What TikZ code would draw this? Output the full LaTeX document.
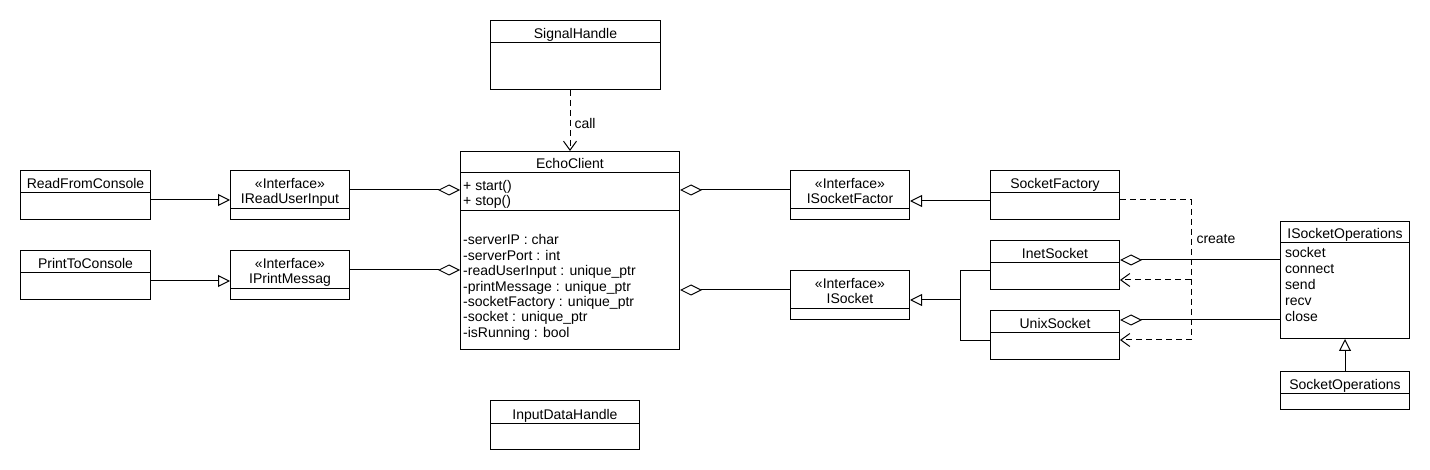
\documentclass[tikz,border=0pt]{standalone}
\usepackage{fontspec}
\setmainfont{Liberation Sans}
\usetikzlibrary{arrows.meta, positioning, calc}

\tikzstyle{umlclass} = [draw, line width=1pt, anchor=north west, inner sep=0pt]
\tikzstyle{txt} = [anchor=base, inner sep=0pt, font=\fontsize{14}{16}\selectfont]
\tikzstyle{member} = [anchor=base west, inner sep=0pt, font=\fontsize{14}{16}\selectfont]
\tikzstyle{line} = [line width=1pt]
\tikzstyle{inherit} = [line width=1pt, -{Triangle[open, length=12pt, width=12pt]}]
\tikzstyle{aggr} = [line width=1pt, {Diamond[open, length=22pt, width=11pt]}-]
\tikzstyle{depend} = [line width=1pt, dash pattern=on 6pt off 4pt, -{Straight Barb[length=9pt, width=13pt]}]

\begin{document}
\begin{tikzpicture}[x=1pt, y=-1pt]
    \fill[white] (0,0) rectangle (1430,470);
    \useasboundingbox (0,0) rectangle (1430,470);

    % SignalHandle
    \node[umlclass, minimum width=170, minimum height=69] (signal) at (490,20) {};
    \node[txt] (signal-t) at ([yshift=-19]signal.north) {SignalHandle};
    \draw[line] ([yshift=-23]signal.north west) -- ([yshift=-23]signal.north east);

    % Console side
    \node[umlclass, minimum width=130, minimum height=49] (readcon) at (20,170) {};
    \node[txt] (readcon-t) at ([yshift=-19]readcon.north) {ReadFromConsole};
    \draw[line] ([yshift=-23]readcon.north west) -- ([yshift=-23]readcon.north east);

    \node[umlclass, minimum width=119, minimum height=49] (iread) at (230,170) {};
    \node[txt] (iread-s) at ([yshift=-19]iread.north) {«Interface»};
    \node[txt] (iread-t) at ([yshift=-34]iread.north) {IReadUserInput};
    \draw[line] ([yshift=-39]iread.north west) -- ([yshift=-39]iread.north east);

    \node[umlclass, minimum width=130, minimum height=49] (printcon) at (20,250) {};
    \node[txt] (printcon-t) at ([yshift=-19]printcon.north) {PrintToConsole};
    \draw[line] ([yshift=-23]printcon.north west) -- ([yshift=-23]printcon.north east);

    \node[umlclass, minimum width=119, minimum height=49] (iprint) at (230,250) {};
    \node[txt] (iprint-s) at ([yshift=-19]iprint.north) {«Interface»};
    \node[txt] (iprint-t) at ([yshift=-34]iprint.north) {IPrintMessag};
    \draw[line] ([yshift=-39]iprint.north west) -- ([yshift=-39]iprint.north east);

    % EchoClient
    \node[umlclass, minimum width=219, minimum height=198] (echo) at (460,151) {};
    \node[txt] (echo-t) at ([yshift=-18]echo.north) {EchoClient};
    \draw[line] ([yshift=-22]echo.north west) -- ([yshift=-22]echo.north east);
    \node[member] (echo-m1) at ([xshift=3, yshift=-39.5]echo.north west) {+ start()};
    \node[member] (echo-m2) at ([xshift=3, yshift=-55]echo.north west) {+ stop()};
    \draw[line] ([yshift=-60]echo.north west) -- ([yshift=-60]echo.north east);
    \foreach \attr [count=\i] in {-serverIP : char, -serverPort : int,
        -readUserInput : unique\_ptr, -printMessage : unique\_ptr,
        -socketFactory : unique\_ptr, -socket : unique\_ptr, -isRunning : bool}
        \node[member] (echo-a\i) at ([xshift=3, yshift=-94-15.4*(\i-1)]echo.north west) {\attr};

    % InputDataHandle
    \node[umlclass, minimum width=149, minimum height=49] (inputdata) at (490,400) {};
    \node[txt] (inputdata-t) at ([yshift=-19]inputdata.north) {InputDataHandle};
    \draw[line] ([yshift=-23]inputdata.north west) -- ([yshift=-23]inputdata.north east);

    % Socket side
    \node[umlclass, minimum width=119, minimum height=49] (ifactory) at (790,170) {};
    \node[txt] (ifactory-s) at ([yshift=-19]ifactory.north) {«Interface»};
    \node[txt] (ifactory-t) at ([yshift=-34]ifactory.north) {ISocketFactor};
    \draw[line] ([yshift=-39]ifactory.north west) -- ([yshift=-39]ifactory.north east);

    \node[umlclass, minimum width=129, minimum height=49] (factory) at (990,170) {};
    \node[txt] (factory-t) at ([yshift=-19]factory.north) {SocketFactory};
    \draw[line] ([yshift=-23]factory.north west) -- ([yshift=-23]factory.north east);

    \node[umlclass, minimum width=119, minimum height=49] (isocket) at (790,270) {};
    \node[txt] (isocket-s) at ([yshift=-19]isocket.north) {«Interface»};
    \node[txt] (isocket-t) at ([yshift=-34]isocket.north) {ISocket};
    \draw[line] ([yshift=-39]isocket.north west) -- ([yshift=-39]isocket.north east);

    \node[umlclass, minimum width=129, minimum height=49] (inet) at (990,240) {};
    \node[txt] (inet-t) at ([yshift=-19]inet.north) {InetSocket};
    \draw[line] ([yshift=-23]inet.north west) -- ([yshift=-23]inet.north east);

    \node[umlclass, minimum width=129, minimum height=49] (unixsock) at (990,310) {};
    \node[txt] (unixsock-t) at ([yshift=-19]unixsock.north) {UnixSocket};
    \draw[line] ([yshift=-23]unixsock.north west) -- ([yshift=-23]unixsock.north east);

    % Socket operations
    \node[umlclass, minimum width=129, minimum height=117] (isockops) at (1280,221) {};
    \node[txt] (isockops-t) at ([yshift=-18]isockops.north) {ISocketOperations};
    \draw[line] ([yshift=-22]isockops.north west) -- ([yshift=-22]isockops.north east);
    \foreach \op [count=\i] in {socket, connect, send, recv, close}
        \node[member] (isockops-m\i) at ([xshift=5, yshift=-36.5-16*(\i-1)]isockops.north west) {\op};

    \node[umlclass, minimum width=129, minimum height=38] (sockops) at (1280,371) {};
    \node[txt] (sockops-t) at ([yshift=-18]sockops.north) {SocketOperations};
    \draw[line] ([yshift=-22]sockops.north west) -- ([yshift=-22]sockops.north east);

    % Relations
    \draw[depend] (signal.south -| echo.north) -- node[right=4pt, pos=0.55, inner sep=0pt, font=\fontsize{14}{16}\selectfont] (call) {call} (echo.north);

    \draw[inherit] (readcon.east |- 0,200) -- (iread.west |- 0,200);
    \draw[inherit] (printcon.east |- 0,281) -- (iprint.west |- 0,281);
    \draw[aggr] (echo.west |- 0,190) -- (iread.east |- 0,190);
    \draw[aggr] (echo.west |- 0,270) -- (iprint.east |- 0,270);

    \draw[aggr] (echo.east |- 0,190) -- (ifactory.west |- 0,190);
    \draw[aggr] (echo.east |- 0,290) -- (isocket.west |- 0,290);
    \draw[inherit] (factory.west |- 0,201) -- (ifactory.east |- 0,201);

    \coordinate (branch) at (960,300);
    \draw[inherit] (branch) -- (isocket.east |- branch);
    \draw[line] (inet.west |- 0,271) -| (branch) |- (unixsock.west |- 0,341);

    \draw[aggr] (inet.east |- 0,260) -- (isockops.west |- 0,260);
    \draw[aggr] (unixsock.east |- 0,320) -- (isockops.west |- 0,320);
    \draw[inherit] (sockops.north) -- (isockops.south);

    \coordinate (bus-top) at (1191,200);
    \coordinate (bus-bot) at (1191,340);
    \draw[depend] (factory.east |- bus-top) -- (bus-top) -- node[right=5pt, pos=0.28, inner sep=0pt, font=\fontsize{14}{16}\selectfont] (create) {create} (bus-bot) -- (unixsock.east |- bus-bot);
    \draw[depend] (bus-top |- 0,280) -- (inet.east |- 0,280);
\end{tikzpicture}
\end{document}
